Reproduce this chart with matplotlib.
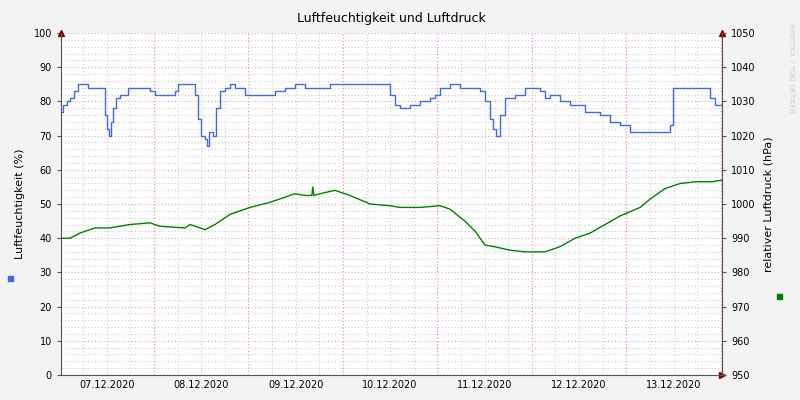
import matplotlib
matplotlib.use("Agg")
import matplotlib.pyplot as plt
from matplotlib.ticker import MultipleLocator, FixedLocator

hum_t = [0.4,0.9,1.9,2.7,3.7,4.7,7.3,10.8,11.6,12.1,12.6,13.1,13.6,14.4,15.4,17.4,21.7,23.0,24.3,28.1,29.4,30.1,33.2,34.4,35.2,36.0,37.0,37.5,38.0,39.0,39.8,40.8,42.1,43.4,44.6,47.1,53.5,54.8,57.3,59.8,62.4,67.5,68.7,82.7,84.0,85.2,86.5,89.0,91.6,94.1,95.4,96.7,99.2,101.7,105.6,106.8,108.1,109.4,110.1,110.9,111.9,113.2,115.7,118.3,122.1,123.3,124.6,127.1,129.7,133.5,137.3,139.9,142.4,144.9,153.8,155.1,155.8,160.1,164.0,165.2,166.5,168.3]
hum_v = [77,79,80,81,83,85,84,84,76,72,70,74,78,81,82,84,84,83,82,82,83,85,85,82,75,70,69,67,71,70,78,83,84,85,84,82,82,83,84,85,84,84,85,85,82,79,78,79,80,81,82,84,85,84,84,83,80,75,72,70,76,81,82,84,83,81,82,80,79,77,76,74,73,71,71,73,84,84,84,81,79,80]

pres_t = [0.4,2.7,5.2,9.0,12.8,17.9,23.0,25.5,31.9,33.2,37.0,39.5,43.4,48.4,53.5,57.3,59.8,62.4,64.1,64.4,64.6,66.2,70.0,73.8,78.9,84.0,86.5,91.6,96.7,99.2,103.0,105.6,108.1,110.6,114.4,118.3,123.3,127.1,131.0,134.8,138.6,142.4,147.5,150.1,153.8,157.7,161.5,165.8,168.3]
pres_v = [990,990,991.5,993,993,994,994.5,993.5,993,994,992.5,994,997,999,1000.5,1002,1003,1002.5,1002.5,1005,1002.5,1003,1004,1002.5,1000,999.5,999,999,999.5,998.5,995,992,988,987.5,986.5,986,986,987.5,990,991.5,994,996.5,999,1001.5,1004.5,1006,1006.5,1006.5,1007]

day_labels = ["07.12.2020","08.12.2020","09.12.2020","10.12.2020","11.12.2020","12.12.2020","13.12.2020"]

fig = plt.figure(figsize=(8,4), dpi=100, facecolor="#f3f3f3")
ax = fig.add_axes([61/800, 25/400, 661/800, 342/400])
ax.set_facecolor("white")
ax.set_xlim(0.4, 168.3)
ax.set_ylim(0, 100)
ax.plot(hum_t, hum_v, color="#4169e1", lw=1, drawstyle="steps-post")
ax2 = ax.twinx()
ax2.set_ylim(950, 1050)
ax2.plot(pres_t, pres_v, color="#008000", lw=1)

ax.yaxis.set_major_locator(MultipleLocator(10))
ax.yaxis.set_minor_locator(MultipleLocator(2))
ax2.yaxis.set_major_locator(MultipleLocator(10))
ax.xaxis.set_major_locator(FixedLocator([24*k for k in range(1,8)]))
ax.xaxis.set_minor_locator(MultipleLocator(6))
ax.grid(which="minor", color="#cccccc", ls=(0,(1,2)), lw=0.8)
ax.grid(which="major", axis="y", color="#d8a8a8", ls=(0,(1,2)), lw=0.8)
ax.grid(which="major", axis="x", color="#f08080", ls=(0,(1,2)), lw=0.8)
ax.set_xticklabels([])
for i, lab in enumerate(day_labels):
    ax.text(12+24*i, -1.5, lab, ha="center", va="top", fontsize=7, transform=ax.transData)
for a in (ax, ax2):
    a.tick_params(labelsize=7, length=3, color="#555555")
    for s in a.spines.values():
        s.set_visible(False)
ax.tick_params(axis="x", which="both", length=0)
ax.spines["left"].set_visible(True); ax.spines["left"].set_color("#555555")
ax.spines["bottom"].set_visible(True); ax.spines["bottom"].set_color("#555555")
ax2.spines["right"].set_visible(True); ax2.spines["right"].set_color("#555555")
ax.tick_params(axis="y", which="minor", length=0)
ax.set_ylabel("Luftfeuchtigkeit (%)", fontsize=8, labelpad=6)
ax2.set_ylabel("relativer Luftdruck (hPa)", fontsize=8, labelpad=6)
ax.set_title("Luftfeuchtigkeit und Luftdruck", fontsize=9, pad=8)

ax.plot([0], [1], marker="^", color="#8b0000", ms=4, transform=ax.transAxes, clip_on=False)
ax.plot([1], [1], marker="^", color="#8b0000", ms=4, transform=ax.transAxes, clip_on=False)
ax.plot([1], [0], marker=">", color="#8b0000", ms=4, transform=ax.transAxes, clip_on=False)
fig.patches.append(plt.Rectangle((8/800, 119/400), 5/800, 5/400, color="#4169e1", transform=fig.transFigure))
fig.patches.append(plt.Rectangle((777/800, 101/400), 5/800, 5/400, color="#008000", transform=fig.transFigure))
fig.text(791/800, 0.83, "RRDTOOL / TOBI OETIKER", rotation=270, fontsize=5, color="#cccccc", ha="center", va="center")
fig.savefig("out.png", dpi=100, facecolor=fig.get_facecolor())
